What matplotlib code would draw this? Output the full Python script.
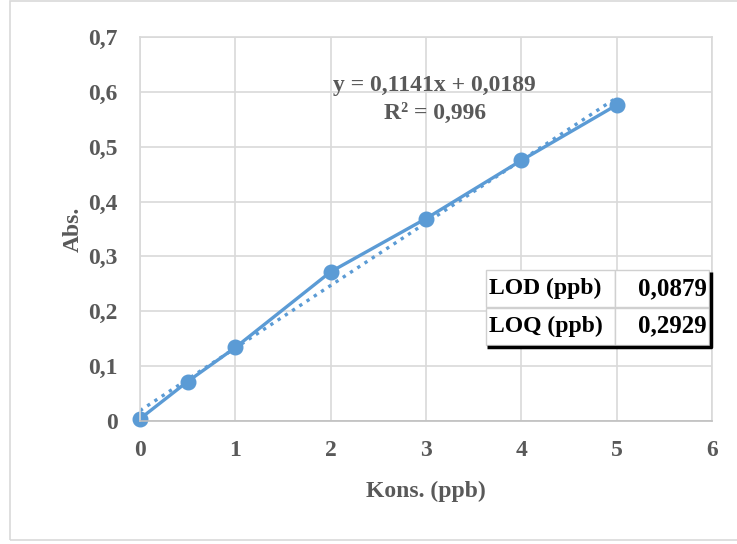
import numpy as np
import matplotlib.pyplot as plt
from matplotlib.patches import Rectangle

# Calibration data
kons = [0, 0.5, 1, 2, 3, 4, 5]
absorb = [0.004, 0.072, 0.134, 0.272, 0.369, 0.475, 0.576]
slope = 0.1141
intercept = 0.0189
r2 = "0,996"
limit_names = ["LOD (ppb)", "LOQ (ppb)"]
limit_values = ["0,0879", "0,2929"]

blue = "#5B9BD5"
grey = "#595959"
plt.rcParams['font.family'] = ['Liberation Serif', 'DejaVu Serif']
plt.rcParams['font.weight'] = 'bold'
plt.rcParams['axes.labelweight'] = 'bold'

fig = plt.figure(figsize=(7.37, 5.44), dpi=100)
fig.patches.append(Rectangle((10 / 737, 4 / 544), 1.0, 539 / 544, transform=fig.transFigure,
                             fill=False, edgecolor="#d9d9d9", linewidth=1.2))

ax = fig.add_axes([140 / 737, 1 - 421 / 544, 572 / 737, 384 / 544])
ax.set_xlim(0, 6)
ax.set_ylim(0, 0.7)
ax.set_xticks(range(7))
ax.set_yticks(np.arange(0, 0.71, 0.1))
ax.set_yticklabels(["0", "0,1", "0,2", "0,3", "0,4", "0,5", "0,6", "0,7"])
ax.grid(True, color="#d9d9d9", linewidth=1.2)
ax.set_axisbelow(True)
for s in ax.spines.values():
    s.set_color("#d9d9d9")
    s.set_linewidth(1.2)
ax.spines['bottom'].set_color("#bfbfbf")
ax.tick_params(length=0, labelsize=17, labelcolor=grey)
ax.tick_params(axis='y', pad=16)
ax.tick_params(axis='x', pad=14)

# trendline
xt = np.array([0, 5])
ax.plot(xt, slope * xt + intercept, linestyle=(0, (1, 1.6)), color=blue, linewidth=2.4)
ax.plot(kons, absorb, color=blue, linewidth=2.4, marker='o', markersize=10.5, clip_on=False)

ax.text(3.09, 0.611, "y = 0,1141x + 0,0189", ha='center', va='center', fontsize=17, color=grey)
ax.text(3.09, 0.561, "R² = " + r2, ha='center', va='center', fontsize=17, color=grey)

ax.set_xlabel("Kons. (ppb)", fontsize=17, color=grey, labelpad=14)
ax.set_ylabel("Abs.", fontsize=17, color=grey, labelpad=3)

# LOD / LOQ table with shadow
tx0, tx1 = 486 / 737, 709 / 737
ty0, ty1 = 1 - 345 / 544, 1 - 270 / 544
tab_ax = fig.add_axes([tx0, ty0, tx1 - tx0, ty1 - ty0])
tab_ax.axis('off')
tab_ax.set_xlim(0, 1)
tab_ax.set_ylim(0, 1)
tbl = tab_ax.table(cellText=[[n, v] for n, v in zip(limit_names, limit_values)],
                   bbox=[0, 0, 1, 1], colWidths=[0.578, 0.422])
tbl.auto_set_font_size(False)
for (r, c), cell in tbl.get_celld().items():
    cell.set_edgecolor("#d0d0d0")
    cell.set_facecolor("white")
    cell.set_linewidth(1.0)
    cell.get_text().set_fontsize(17 if c == 0 else 18)
    cell.get_text().set_fontweight('bold')
    cell.get_text().set_color("black")
    cell.get_text().set_ha('left' if c == 0 else 'right')
    cell.PAD = 0.02
tab_ax.plot([0.005, 1.008, 1.008], [-0.03, -0.03, 0.97], color="black", linewidth=2.5,
            clip_on=False, solid_capstyle='butt', zorder=5)

fig.savefig("out.png", dpi=100)
